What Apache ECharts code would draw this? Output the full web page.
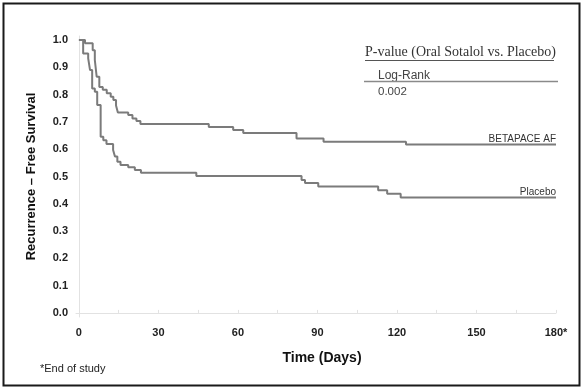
<!DOCTYPE html>
<html>
<head>
<meta charset="utf-8">
<script src="https://cdn.jsdelivr.net/npm/echarts@6/dist/echarts.min.js"></script>
<style>
html,body{margin:0;padding:0;background:#fff;}
#chart{width:584px;height:390px;}
</style>
</head>
<body>
<div id="chart"></div>
<script>
// Kaplan-Meier step data
const betaDays = [0, 2.3, 5.2, 6.0, 6.7, 7.7, 9.0, 10.5, 12.0, 13.0, 14.0, 14.7, 18.6, 20.2, 21.7, 23.2, 49.0, 58.2, 62.0, 82.1, 92.3, 123.4, 180];
const betaSurv = [1.0, 0.988, 0.963, 0.927, 0.866, 0.828, 0.818, 0.805, 0.792, 0.78, 0.76, 0.735, 0.725, 0.713, 0.703, 0.692, 0.681, 0.670, 0.659, 0.639, 0.627, 0.617, 0.617];
const placDays = [0, 1.6, 3.5, 4.2, 5.0, 6.0, 6.9, 8.2, 9.2, 10.4, 12.9, 13.6, 14.5, 15.7, 18.6, 21.1, 23.4, 44.3, 84.0, 85.3, 90.3, 112.9, 116.3, 121.4, 180];
const placSurv = [1.0, 0.951, 0.933, 0.89, 0.823, 0.811, 0.762, 0.646, 0.633, 0.619, 0.597, 0.573, 0.554, 0.542, 0.534, 0.524, 0.514, 0.502, 0.487, 0.476, 0.463, 0.45, 0.437, 0.423, 0.423];
const xTickLabels = [0, 30, 60, 90, 120, 150, 180];
const xMinorTicks = [0, 15, 30, 45, 60, 75, 90, 105, 120, 135, 150, 165, 180];
const yTickLabels = [0, 0.1, 0.2, 0.3, 0.4, 0.5, 0.6, 0.7, 0.8, 0.9, 1.0];
const seriesNames = ['BETAPACE AF', 'Placebo'];

const sans = 'Liberation Sans, Arial, Helvetica, sans-serif';
const serif = 'Liberation Serif, Times New Roman, serif';
const lineColor = '#7b7b7b';

function pairs(xs, ys) { return xs.map((x, i) => [x, ys[i]]); }

const chart = echarts.init(document.getElementById('chart'));
chart.setOption({
  animation: false,
  backgroundColor: '#ffffff',
  grid: { left: 76, right: 28, top: 36, bottom: 73 },
  xAxis: {
    type: 'value', min: -1.1, max: 180,
    name: 'Time (Days)', nameLocation: 'middle', nameGap: 34,
    nameTextStyle: { fontFamily: sans, fontSize: 14, fontWeight: 'bold', color: '#111', padding: [0, 0, 0, 12] },
    axisLine: { show: true, lineStyle: { color: '#e2e2e2', width: 1 } },
    axisTick: { show: true, inside: true, length: 3, customValues: xMinorTicks, lineStyle: { color: '#e2e2e2' } },
    axisLabel: { customValues: xTickLabels, margin: 10, fontFamily: sans, fontSize: 11, fontWeight: 'bold', color: '#222',
      formatter: v => (v === 180 ? '180*' : String(v)) },
    splitLine: { show: false }
  },
  yAxis: {
    type: 'value', min: -0.015, max: 1.015,
    name: 'Recurrence \u2013 Free Survival', nameLocation: 'middle', nameGap: 38,
    nameTextStyle: { fontFamily: sans, fontSize: 13, fontWeight: 'bold', color: '#111' },
    axisLine: { show: true, lineStyle: { color: '#e2e2e2', width: 1 } },
    axisTick: { show: false },
    axisLabel: { customValues: yTickLabels, margin: 8, fontFamily: sans, fontSize: 11, fontWeight: 'bold', color: '#222',
      formatter: v => v.toFixed(1) },
    splitLine: { show: false }
  },
  series: [
    {
      name: seriesNames[0], type: 'line', step: 'end', showSymbol: false, symbol: 'none',
      data: pairs(betaDays, betaSurv),
      lineStyle: { color: lineColor, width: 2 },
      endLabel: { show: true, formatter: seriesNames[0], align: 'right', verticalAlign: 'middle', distance: 0, offset: [0, -5],
        fontFamily: sans, fontSize: 10, color: '#333' }
    },
    {
      name: seriesNames[1], type: 'line', step: 'end', showSymbol: false, symbol: 'none',
      data: pairs(placDays, placSurv),
      lineStyle: { color: lineColor, width: 2 },
      endLabel: { show: true, formatter: seriesNames[1], align: 'right', verticalAlign: 'middle', distance: 0, offset: [0, -5],
        fontFamily: sans, fontSize: 10, color: '#333' }
    }
  ],
  graphic: [
    { type: 'rect', shape: { x: 3.5, y: 3.5, width: 576, height: 382 }, style: { fill: 'none', stroke: '#1a1a1a', lineWidth: 2 }, silent: true },
    { type: 'text', left: 365, top: 45, style: { text: 'P-value (Oral Sotalol vs. Placebo)', fontFamily: serif, fontSize: 14, fill: '#333' } },
    { type: 'line', shape: { x1: 365, y1: 60.5, x2: 554, y2: 60.5 }, style: { stroke: '#555', lineWidth: 1 } },
    { type: 'text', left: 378, top: 70, style: { text: 'Log-Rank', fontFamily: sans, fontSize: 12, fill: '#444' } },
    { type: 'line', shape: { x1: 364, y1: 81.5, x2: 558, y2: 81.5 }, style: { stroke: '#8a8a8a', lineWidth: 1.5 } },
    { type: 'text', left: 378, top: 86, style: { text: '0.002', fontFamily: sans, fontSize: 11.5, fill: '#444' } },
    { type: 'text', left: 40, top: 363, style: { text: '*End of study', fontFamily: sans, fontSize: 11, fill: '#222' } }
  ]
});
</script>
</body>
</html>
